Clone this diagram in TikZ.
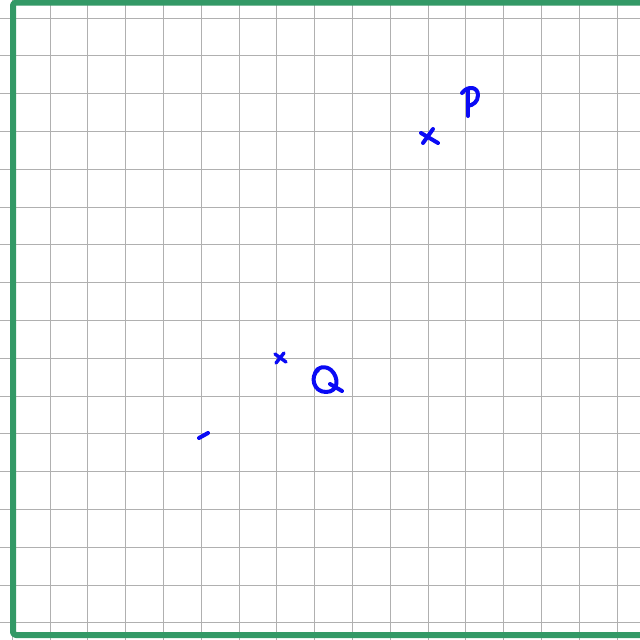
\documentclass[tikz,border=0pt]{standalone}
\usetikzlibrary{calc}
\definecolor{gridgray}{HTML}{B0B0B0}
\definecolor{framegreen}{HTML}{339966}
\definecolor{inkblue}{HTML}{0A0AF5}
\tikzset{
  gridline/.style={draw=gridgray, line width=1pt},
  frameline/.style={draw=framegreen, line width=6pt, rounded corners=3pt, line join=round},
  ink/.style={draw=inkblue, line width=4pt, line cap=round, line join=round},
  thinink/.style={draw=inkblue, line width=3.4pt, line cap=round, line join=round},
}
\begin{document}
\begin{tikzpicture}[x=1pt,y=-1pt]
\useasboundingbox[fill=white] (0,0) rectangle (640,640);
% grid
\foreach \k in {0,...,16} {
  \draw[gridline] ({int(12.2+37.8*\k)+0.5},0) -- ({int(12.2+37.8*\k)+0.5},640);
  \draw[gridline] (0,{int(18+37.8*\k)+0.5}) -- (640,{int(18+37.8*\k)+0.5});
}
% frame
\draw[frameline] (642,2.5) -- (13,2.5) -- (13,635) -- (642,635);
% point P
\coordinate (P) at (429,138);
\draw[ink] ($(P)+(-8,-5)$) -- ($(P)+(9,5)$);
\draw[ink] ($(P)+(4,-9)$) -- ($(P)+(-6,5)$);
% letter P
\draw[ink] (468,89) -- (468,116);
\draw[ink] (462,93) .. controls (468,85) and (478,87) .. (478,95)
  .. controls (478,102) and (473,105) .. (468,106);
% point Q
\coordinate (Q) at (280,358);
\draw[thinink] ($(Q)+(-5,-4)$) -- ($(Q)+(6,4)$);
\draw[thinink] ($(Q)+(4,-5)$) -- ($(Q)+(-4,5)$);
% letter Q
\draw[ink] (318,370) .. controls (310,376) and (313,392) .. (326,392)
  .. controls (339,392) and (339,377) .. (331,370)
  .. controls (325,365) and (317,367) .. (315,373);
\draw[ink] (330,384) -- (342,391);
% small dash
\coordinate (D) at (203,435);
\draw[ink] ($(D)+(-4,3)$) -- ($(D)+(5,-2)$);
\end{tikzpicture}
\end{document}
